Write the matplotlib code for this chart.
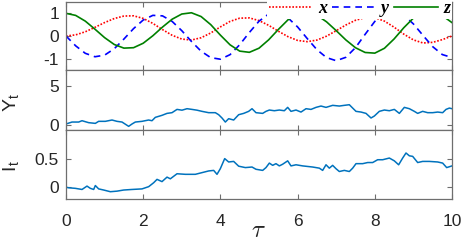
import matplotlib
matplotlib.use("Agg")
import matplotlib.pyplot as plt
import numpy as np

plt.rcParams['font.family'] = ['Liberation Sans', 'DejaVu Sans']
plt.rcParams['mathtext.fontset'] = 'cm'
plt.rcParams['axes.unicode_minus'] = False

# ---- top panel: spin components ----
tau_grid = [0.0, 0.25, 0.5, 0.75, 1.0, 1.25, 1.5, 1.75, 2.0, 2.25, 2.5, 2.75, 3.0, 3.25,
            3.5, 3.75, 4.0, 4.25, 4.5, 4.75, 5.0, 5.25, 5.5, 5.75, 6.0, 6.25, 6.5, 6.75,
            7.0, 7.25, 7.5, 7.75, 8.0, 8.25, 8.5, 8.75, 9.0, 9.25, 9.5, 9.75, 10.0]
x_vals = [0.0, 0.05, 0.186, 0.382, 0.592, 0.771, 0.88, 0.891, 0.776, 0.556, 0.283, 0.031,
          -0.136, -0.177, -0.078, 0.134, 0.401, 0.644, 0.787, 0.798, 0.68, 0.471, 0.212,
          -0.028, -0.195, -0.25, -0.18, -0.007, 0.234, 0.485, 0.694, 0.813, 0.811, 0.656,
          0.389, 0.084, -0.172, -0.309, -0.28, -0.16, 0.0]
y_vals = [0.0, -0.433, -0.764, -0.915, -0.845, -0.562, -0.135, 0.326, 0.705, 0.911, 0.888,
          0.643, 0.234, -0.241, -0.671, -0.956, -1.024, -0.823, -0.384, 0.155, 0.653, 0.969,
          1.013, 0.80, 0.399, -0.113, -0.603, -0.954, -1.09, -0.94, -0.513, 0.075, 0.643,
          1.025, 1.113, 0.923, 0.533, 0.023, -0.47, -0.82, -0.95]
z_vals = [1.0, 0.909, 0.656, 0.301, -0.072, -0.374, -0.535, -0.516, -0.319, 0.011, 0.394,
          0.741, 0.970, 1.025, 0.858, 0.501, 0.038, -0.389, -0.667, -0.72, -0.538, -0.169,
          0.286, 0.712, 0.99, 1.055, 0.918, 0.625, 0.237, -0.173, -0.518, -0.727, -0.756,
          -0.541, -0.13, 0.363, 0.791, 1.064, 1.07, 0.90, 0.59]

# ---- middle panel: Y_t ----
Y_tau = [0.0, 0.155, 0.328, 0.415, 0.587, 0.76, 0.846, 1.019, 1.192, 1.321,
         1.451, 1.623, 1.71, 1.796, 1.969, 2.14, 2.228, 2.314, 2.487, 2.617,
         2.746, 2.876, 3.005, 3.135, 3.264, 3.394, 3.523, 3.696, 3.869, 3.955,
         4.041, 4.128, 4.214, 4.344, 4.473, 4.603, 4.732, 4.819,
         4.922, 5.095, 5.181, 5.268, 5.397, 5.527, 5.656, 5.743, 5.829, 5.959,
         6.088, 6.218, 6.347, 6.477, 6.606, 6.736, 6.909, 7.081, 7.211, 7.34,
         7.427, 7.513, 7.643, 7.772, 7.902, 7.988, 8.117, 8.247, 8.377, 8.506,
         8.636, 8.765, 8.895, 9.024, 9.111, 9.24, 9.37, 9.499, 9.629, 9.758,
         9.845, 9.931, 10.0]
Y_vals = [0.13, 0.38, 0.38, 0.55, 0.3, 0.21, 0.47, 0.47, 0.64, 0.47,
          0.38, -0.17, 0.13, 0.38, 0.47, 0.64, 0.55, 0.98, 1.24, 1.49,
          1.58, 2.0, 1.9, 2.09, 2.0, 1.9, 1.75, 1.58, 1.58, 1.32,
          0.9, 0.38, 0.81, 0.64, 1.32, 1.49, 1.75, 2.09,
          1.58, 1.49, 1.75, 1.92, 1.83, 1.92, 1.83, 2.26, 1.75, 1.92,
          1.66, 2.09, 2.0, 2.26, 2.43, 2.26, 2.52, 2.43, 2.52, 2.6,
          2.17, 1.75, 1.66, 1.49, 0.9, 1.15, 1.75, 1.92, 1.83, 2.0,
          1.49, 2.26, 2.09, 1.75, 1.49, 1.75, 1.58, 1.58, 1.66, 1.58,
          2.0, 2.17, 2.09]

# ---- bottom panel: I_t ----
I_tau = [0.0, 0.069, 0.242, 0.415, 0.544, 0.630, 0.717, 0.760, 0.846, 0.976, 1.149,
         1.321, 1.494, 1.710, 1.969, 2.142, 2.271, 2.358, 2.487, 2.617, 2.703,
         2.876, 3.092, 3.351, 3.523, 3.696, 3.826, 3.912, 3.998, 4.111, 4.214,
         4.344, 4.473, 4.646, 4.819,
         4.922, 5.095, 5.181, 5.268, 5.354, 5.44, 5.527, 5.613, 5.743, 5.829,
         5.959, 6.131, 6.39, 6.563, 6.649, 6.736, 6.822, 6.908, 6.995, 7.081,
         7.211, 7.34, 7.427, 7.513, 7.686, 7.815, 7.945, 8.074, 8.204, 8.377,
         8.506, 8.618, 8.722, 8.808, 8.895, 8.981, 9.111, 9.24, 9.413, 9.629,
         9.758, 9.862, 10.0]
I_vals = [0.0, -0.01, -0.02, -0.04, 0.02, -0.02, -0.04, 0.03, -0.03, -0.05, -0.08,
          -0.07, -0.05, -0.04, -0.03, 0.01, 0.08, 0.14, 0.1, 0.18, 0.15,
          0.24, 0.23, 0.23, 0.26, 0.29, 0.3, 0.23, 0.33, 0.51, 0.45,
          0.46, 0.375, 0.35, 0.36,
          0.32, 0.3, 0.35, 0.43, 0.39, 0.42, 0.38, 0.41, 0.47, 0.38,
          0.4, 0.38, 0.36, 0.34, 0.3, 0.4, 0.34, 0.39, 0.33, 0.28,
          0.3, 0.28, 0.34, 0.42, 0.42, 0.44, 0.44, 0.49, 0.49, 0.52,
          0.47, 0.4, 0.52, 0.61, 0.56, 0.55, 0.44, 0.46, 0.46, 0.45,
          0.43, 0.35, 0.38]

x_ticks = [0, 2, 4, 6, 8, 10]

W, H = 463, 245
fig = plt.figure(figsize=(W / 100, H / 100), dpi=100)

def pos(top, bottom, left=66, right=452):
    return [left / W, 1 - bottom / H, (right - left) / W, (bottom - top) / H]

ax1 = fig.add_axes(pos(2, 70))
ax2 = fig.add_axes(pos(70, 130))
ax3 = fig.add_axes(pos(130, 199))

spine_col = '#6e6e6e'
for ax in (ax1, ax2, ax3):
    ax.set_xlim(0, 10)
    ax.set_xticks(x_ticks)
    for s in ax.spines.values():
        s.set_color(spine_col)
        s.set_linewidth(0.9)
    ax.tick_params(direction='in', top=True, right=True, length=3.5, width=0.8,
                   color=spine_col, labelsize=12.5, labelcolor='#262626', pad=5)

ax1.tick_params(labelbottom=False)
ax2.tick_params(labelbottom=False)
ax3.tick_params(axis='x', pad=11)

# top panel
ax1.plot(tau_grid, x_vals, color='#ff0000', lw=1.2, ls=(0, (1, 1)), label='x')
ax1.plot(tau_grid, y_vals, color='#0000ff', lw=1.2, ls=(0, (4, 3)), label='y')
ax1.plot(tau_grid, z_vals, color='#008000', lw=1.2, ls='-', label='z')
ax1.set_ylim(-1.5, 1.5)
ax1.set_yticks([-1, 0, 1])
leg = ax1.legend(loc='upper right', bbox_to_anchor=(1.0, 1.05), ncol=3,
                 frameon=True, fancybox=False, framealpha=1, facecolor='white',
                 edgecolor='none', borderpad=0.1, handlelength=2.4,
                 handletextpad=0.3, columnspacing=0.3, borderaxespad=0.0,
                 prop={'family': 'Liberation Serif', 'style': 'italic',
                       'weight': 'bold', 'size': 13})

# middle panel
ax2.plot(Y_tau, Y_vals, color='#0072BD', lw=1.1)
ax2.set_ylim(-0.64, 7.05)
ax2.set_yticks([0, 5])

# bottom panel
ax3.plot(I_tau, I_vals, color='#0072BD', lw=1.1)
ax3.set_ylim(-0.21, 1.02)
ax3.set_yticks([0, 0.5])
ax3.set_yticklabels(['0', '0.5'])

fig.text(12 / W, 1 - 102 / H, r'Y$_{\mathregular{t}}$', rotation=90, ha='center',
         va='center', fontsize=14, color='#262626')
fig.text(12 / W, 1 - 166 / H, r'I$_{\mathregular{t}}$', rotation=90, ha='center',
         va='center', fontsize=14, color='#262626')
fig.text(258 / W, 1 - 230 / H, r'$\tau$', ha='center', va='center', fontsize=18,
         color='#262626')

fig.savefig('out.png', dpi=100)
